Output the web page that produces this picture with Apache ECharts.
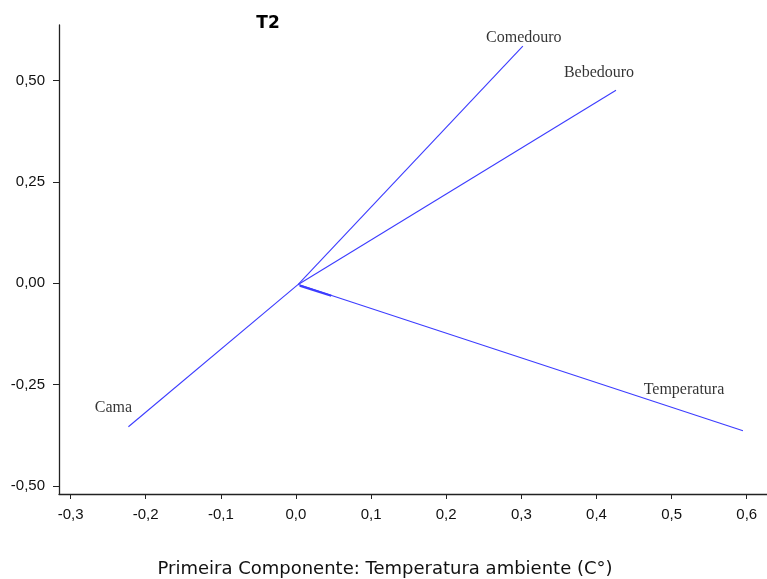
<!DOCTYPE html>
<html>
<head>
<meta charset="utf-8">
<script src="https://cdn.jsdelivr.net/npm/echarts@6/dist/echarts.min.js"></script>
<style>html,body{margin:0;padding:0;background:#fff;}#c{width:767px;height:579px;}</style>
</head>
<body>
<div id="c"></div>
<script>
const variables = ['Comedouro', 'Bebedouro', 'Temperatura', 'Cama'];
const originPoint = [0.003, -0.003];
const loadingsX = [0.302, 0.426, 0.595, -0.223];
const loadingsY = [0.585, 0.476, -0.364, -0.354];
// short overlapping vector visible near the origin (unlabelled)
const shortVectorX = [0.005, 0.047];
const shortVectorY = [-0.006, -0.031];
const xTicks = [-0.3, -0.2, -0.1, 0.0, 0.1, 0.2, 0.3, 0.4, 0.5, 0.6];
const yTicks = [-0.5, -0.25, 0.0, 0.25, 0.5];
const titleText = 'T2';
const xAxisTitle = 'Primeira Componente: Temperatura ambiente (C°)';

const labelOffsets = {
  Comedouro: [1, -8],
  Bebedouro: [-17, -17],
  Temperatura: [-59, -41],
  Cama: [-15, -19]
};

const lineColor = '#3c3cff';
const axisColor = '#222';
const tickFont = '"Liberation Sans", Arial, sans-serif';

const series = [];
variables.forEach((name, i) => {
  series.push({
    type: 'line',
    name: name,
    data: [originPoint, [loadingsX[i], loadingsY[i]]],
    symbol: 'none',
    lineStyle: { color: lineColor, width: 1.1 },
    silent: true,
    z: 2
  });
  series.push({
    type: 'scatter',
    name: name + '_label',
    data: [[loadingsX[i], loadingsY[i]]],
    symbolSize: 0,
    silent: true,
    label: {
      show: true,
      formatter: name,
      position: 'inside',
      offset: labelOffsets[name],
      fontFamily: '"Liberation Serif", "DejaVu Serif", serif',
      fontSize: 16,
      color: '#000'
    }
  });
});
series.push({
  type: 'line',
  name: 'short',
  data: [[shortVectorX[0], shortVectorY[0]], [shortVectorX[1], shortVectorY[1]]],
  symbol: 'none',
  lineStyle: { color: lineColor, width: 2.2 },
  silent: true,
  z: 3
});

const chart = echarts.init(document.getElementById('c'), null, { renderer: 'canvas' });
chart.setOption({
  animation: false,
  backgroundColor: '#fff',
  grid: { left: 59, right: 0, top: 25, bottom: 85, containLabel: false },
  xAxis: {
    type: 'value',
    min: -0.3154,
    max: 0.627,
    splitLine: { show: false },
    axisLine: { show: true, onZero: false, lineStyle: { color: axisColor, width: 1.3 } },
    axisTick: { show: true, length: 5, customValues: xTicks, lineStyle: { color: axisColor } },
    axisLabel: {
      customValues: xTicks,
      margin: 13,
      fontFamily: tickFont,
      fontSize: 15,
      color: '#111',
      formatter: v => v.toFixed(1).replace('.', ',').replace('-0,0', '0,0')
    }
  },
  yAxis: {
    type: 'value',
    min: -0.52,
    max: 0.637,
    splitLine: { show: false },
    axisLine: { show: true, onZero: false, lineStyle: { color: axisColor, width: 1.3 } },
    axisTick: { show: true, length: 6, customValues: yTicks, lineStyle: { color: axisColor } },
    axisLabel: {
      customValues: yTicks,
      margin: 14,
      fontFamily: tickFont,
      fontSize: 15,
      color: '#111',
      formatter: v => v.toFixed(2).replace('.', ',').replace('-0,00', '0,00')
    }
  },
  graphic: [{
    type: 'text',
    x: 268,
    y: 24,
    style: {
      text: titleText,
      fontFamily: '"DejaVu Sans", Verdana, sans-serif',
      fontWeight: 'bold',
      fontSize: 17,
      fill: '#000',
      align: 'center',
      verticalAlign: 'middle'
    }
  }, {
    type: 'text',
    x: 385,
    y: 569,
    style: {
      text: xAxisTitle,
      fontFamily: '"DejaVu Sans", Verdana, sans-serif',
      fontSize: 18,
      fill: '#111',
      align: 'center',
      verticalAlign: 'middle'
    }
  }],
  series: series
});
</script>
</body>
</html>
